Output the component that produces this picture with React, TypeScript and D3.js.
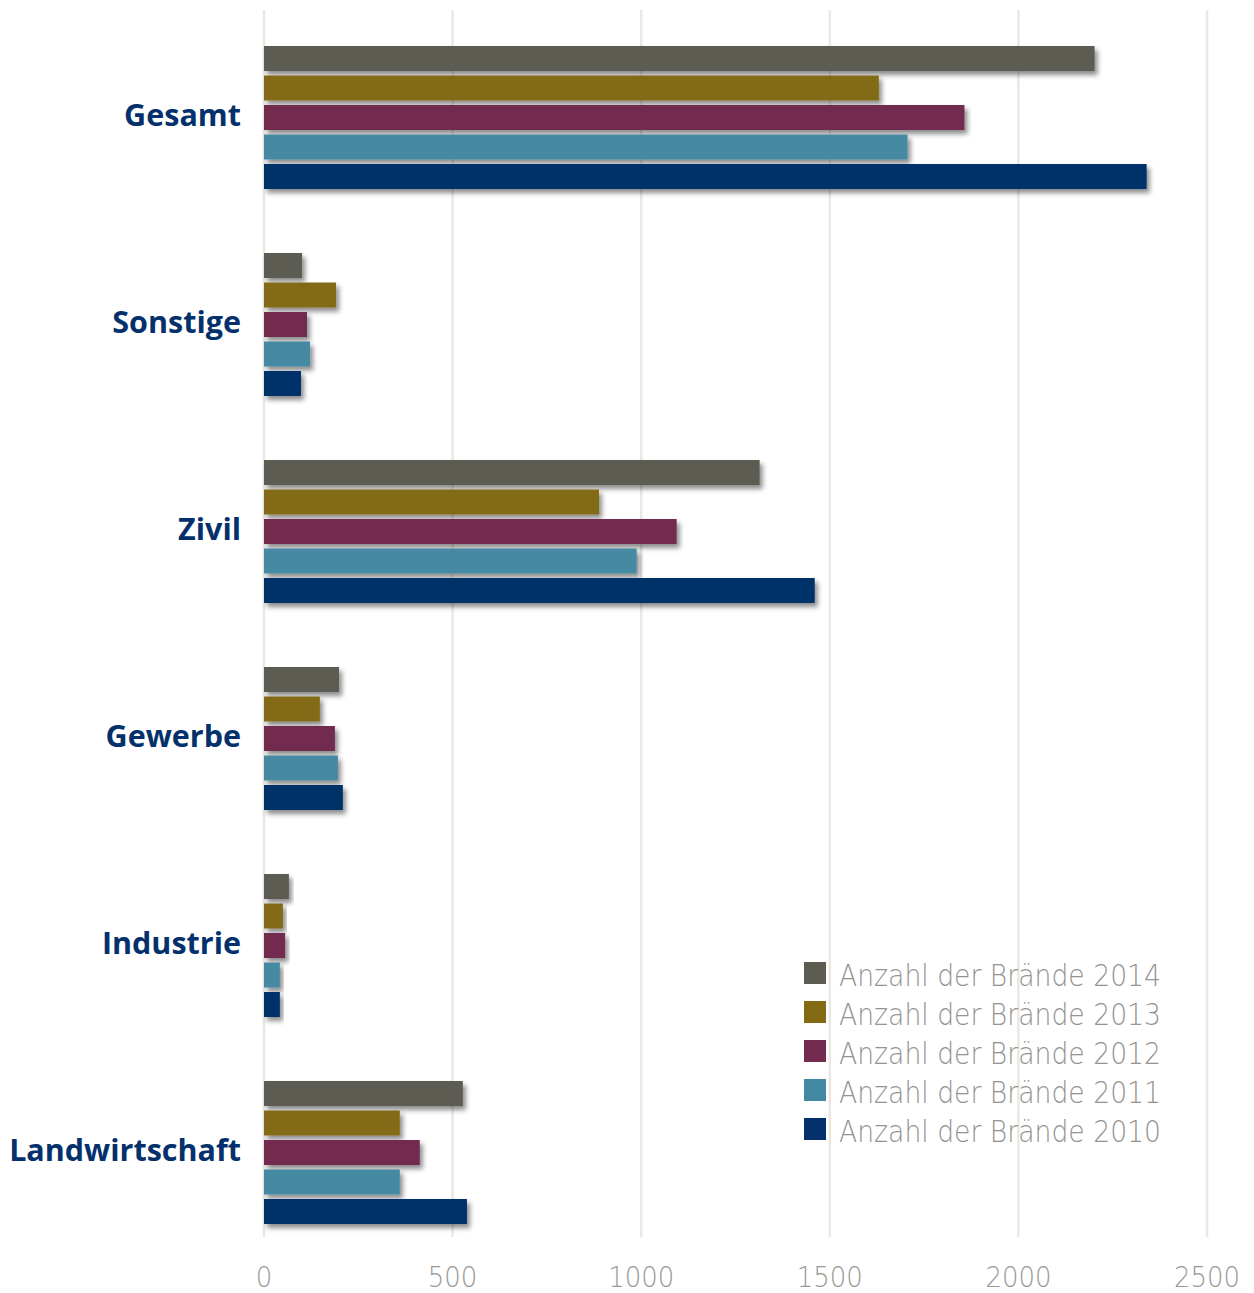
import React from "react";
import * as d3 from "d3";

const categories = ["Gesamt", "Sonstige", "Zivil", "Gewerbe", "Industrie", "Landwirtschaft"];
const years = ["2014", "2013", "2012", "2011", "2010"];
const values2014 = [2202, 101, 1314, 199, 66, 527];
const values2013 = [1630, 191, 888, 148, 50, 360];
const values2012 = [1857, 114, 1094, 188, 56, 413];
const values2011 = [1706, 122, 988, 196, 42, 360];
const values2010 = [2340, 98, 1460, 209, 42, 538];
const seriesValues = [values2014, values2013, values2012, values2011, values2010];
const colors = ["#5c5c53", "#836a12", "#732b4f", "#4489a3", "#04306b"];
const xTicks = [0, 500, 1000, 1500, 2000, 2500];
const legendLabel = "Anzahl der Brände";

export default function App() {
  const W = 1254, H = 1293;
  const x = d3.scaleLinear().domain([0, 2500]).range([264, 1207]);
  const y = d3.scaleBand<string>().domain(categories).range([46, 1224]).paddingInner(64 / 207).paddingOuter(0);
  const yi = d3.scaleBand<string>().domain(years).range([0, y.bandwidth()]).paddingInner(0.153).paddingOuter(0);

  return (
    <svg width={W} height={H} style={{ position: "absolute", left: 0, top: 0, background: "#fff" }}>
      <defs>
        <filter id="sh" x="-10%" y="-50%" width="130%" height="250%">
          <feDropShadow dx="3" dy="4" stdDeviation="2.5" floodColor="#000" floodOpacity="0.45" />
        </filter>
      </defs>
      {xTicks.map((t) => (
        <line key={t} x1={x(t)} x2={x(t)} y1={10} y2={1237} stroke="#ece8e1" strokeWidth={2.5} />
      ))}
      {xTicks.map((t) => (
        <text key={"l" + t} x={x(t)} y={1287} textAnchor="middle" fontFamily="DejaVu Sans" fontWeight={200}
          fontSize={29} fill="#999994" textLength={String(t).length * 16.5} lengthAdjust="spacingAndGlyphs">
          {t}
        </text>
      ))}
      {categories.map((c, ci) => (
        <g key={c} transform={`translate(0,${y(c)})`}>
          {years.map((yr, si) => (
            <rect key={yr} x={x(0)} y={yi(yr)} width={x(seriesValues[si][ci]) - x(0)} height={yi.bandwidth()}
              fill={colors[si]} filter="url(#sh)" />
          ))}
          <text x={241} y={y.bandwidth() / 2} dy="0.27em" textAnchor="end" fontFamily="Open Sans" fontWeight={700}
            fontSize={30.5} fill="#04306b">{c}</text>
        </g>
      ))}
      {years.map((yr, i) => (
        <g key={yr} transform={`translate(804,${962 + i * 39})`}>
          <rect x={0} y={0} width={22} height={22} fill={colors[i]} />
          <text x={35} y={24} fontFamily="DejaVu Sans" fontWeight={200} fontSize={31} fill="#939390"
            textLength={322} lengthAdjust="spacingAndGlyphs">{`${legendLabel} ${yr}`}</text>
        </g>
      ))}
    </svg>
  );
}
